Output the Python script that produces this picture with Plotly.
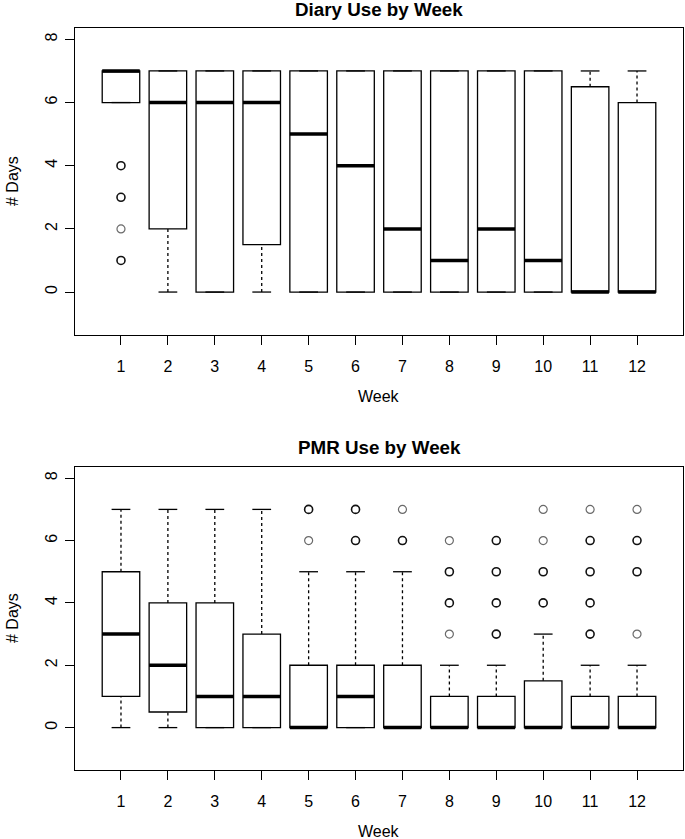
import plotly.graph_objects as go
from plotly.subplots import make_subplots
from collections import Counter

weeks = list(range(1, 13))

# Diary use by week
diary_q1 = [6, 2, 0, 1.5, 0, 0, 0, 0, 0, 0, 0, 0]
diary_med = [7, 6, 6, 6, 5, 4, 2, 1, 2, 1, 0, 0]
diary_q3 = [7, 7, 7, 7, 7, 7, 7, 7, 7, 7, 6.5, 6]
diary_lo = [6, 0, 0, 0, 0, 0, 0, 0, 0, 0, 0, 0]
diary_hi = [7, 7, 7, 7, 7, 7, 7, 7, 7, 7, 7, 7]
diary_out = {1: [1, 1, 2, 3, 3, 4, 4]}

# PMR use by week
pmr_q1 = [1, 0.5, 0, 0, 0, 0, 0, 0, 0, 0, 0, 0]
pmr_med = [3, 2, 1, 1, 0, 1, 0, 0, 0, 0, 0, 0]
pmr_q3 = [5, 4, 4, 3, 2, 2, 2, 1, 1, 1.5, 1, 1]
pmr_lo = [0, 0, 0, 0, 0, 0, 0, 0, 0, 0, 0, 0]
pmr_hi = [7, 7, 7, 7, 5, 5, 5, 2, 2, 3, 2, 2]
pmr_out = {5: [6, 7, 7], 6: [6, 6, 7, 7], 7: [6, 6, 7],
           8: [3, 4, 4, 5, 5, 6], 9: [3, 3, 4, 4, 5, 5, 6, 6],
           10: [4, 4, 5, 5, 6, 7], 11: [3, 3, 4, 4, 5, 5, 6, 6, 7],
           12: [3, 5, 5, 6, 6, 7]}

titles = ["Diary Use by Week", "PMR Use by Week"]
x_label = "Week"
y_label = "# Days"

BOXW = 0.8
STAPLE = 0.2
FONT = "Liberation Sans, Arial, Helvetica, sans-serif"

W, H = 685, 839
ML, MR, MT, MB = 75, 2, 28, 69
PH = H - MT - MB
top_dom = [(770 - 335) / PH, 1.0]
bot_dom = [0.0, (770 - 467) / PH]

fig = make_subplots(rows=2, cols=1)

panels = [
    (diary_q1, diary_med, diary_q3, diary_lo, diary_hi, diary_out),
    (pmr_q1, pmr_med, pmr_q3, pmr_lo, pmr_hi, pmr_out),
]

for r, (q1, med, q3, lo, hi, outs) in enumerate(panels, start=1):
    fig.add_trace(go.Box(
        x=weeks, q1=q1, median=med, q3=q3, lowerfence=q1, upperfence=q3,
        width=BOXW, whiskerwidth=0, fillcolor="white",
        line=dict(color="black", width=1.3), boxpoints=False,
        hoverinfo="skip", showlegend=False), row=r, col=1)
    # whiskers (dashed)
    wx, wy = [], []
    for w, a, b, c, d in zip(weeks, q1, q3, lo, hi):
        if c < a:
            wx += [w, w, None]; wy += [c, a, None]
        if d > b:
            wx += [w, w, None]; wy += [b, d, None]
    fig.add_trace(go.Scatter(x=wx, y=wy, mode="lines",
                             line=dict(color="black", width=1.3, dash="3px,3px"),
                             hoverinfo="skip", showlegend=False), row=r, col=1)
    # staples
    sx, sy = [], []
    for w, c, d in zip(weeks, lo, hi):
        sx += [w - STAPLE, w + STAPLE, None, w - STAPLE, w + STAPLE, None]
        sy += [c, c, None, d, d, None]
    fig.add_trace(go.Scatter(x=sx, y=sy, mode="lines",
                             line=dict(color="black", width=1.3),
                             hoverinfo="skip", showlegend=False), row=r, col=1)
    # medians (thick)
    mx, my = [], []
    for w, m in zip(weeks, med):
        mx += [w - BOXW / 2, w + BOXW / 2, None]; my += [m, m, None]
    fig.add_trace(go.Scatter(x=mx, y=my, mode="lines",
                             line=dict(color="black", width=3.5),
                             hoverinfo="skip", showlegend=False), row=r, col=1)
    # outliers: single points lighter, overlapping points darker
    sx1, sy1, sx2, sy2 = [], [], [], []
    for w, vals in outs.items():
        for v, n in Counter(vals).items():
            if n > 1:
                sx2.append(w); sy2.append(v)
            else:
                sx1.append(w); sy1.append(v)
    fig.add_trace(go.Scatter(x=sx1, y=sy1, mode="markers",
                             marker=dict(symbol="circle-open", size=8, color="#6a6a6a",
                                         line=dict(width=1.2, color="#6a6a6a")),
                             hoverinfo="skip", showlegend=False), row=r, col=1)
    fig.add_trace(go.Scatter(x=sx2, y=sy2, mode="markers",
                             marker=dict(symbol="circle-open", size=8, color="#111111",
                                         line=dict(width=1.6, color="#111111")),
                             hoverinfo="skip", showlegend=False), row=r, col=1)

axis_common = dict(showline=True, mirror=True, linecolor="black", linewidth=1.3,
                   ticks="outside", ticklen=9, tickwidth=1.3, tickcolor="black",
                   showgrid=False, zeroline=False,
                   tickfont=dict(family=FONT, size=16, color="black"))

for r, dom in [(1, top_dom), (2, bot_dom)]:
    fig.update_xaxes(range=[0.02, 12.98], tickvals=weeks, ticklabelstandoff=8,
                     row=r, col=1, **axis_common)
    fig.update_yaxes(range=[-1.36, 8.36], tickvals=[0, 2, 4, 6, 8], tickangle=-90,
                     domain=dom, ticklabelstandoff=1, row=r, col=1, **axis_common)

def py(pix):
    return (H - MB - pix) / PH

def px(pix):
    return (pix - ML) / (W - ML - MR)

anns = []
for title, ty, wy, cy in [(titles[0], 9, 397, 181), (titles[1], 447, 831, 618)]:
    anns.append(dict(text="<b>%s</b>" % title, x=px(379), y=py(ty), xref="paper", yref="paper",
                     xanchor="center", yanchor="middle", showarrow=False,
                     font=dict(family=FONT, size=18.8, color="black")))
    anns.append(dict(text=x_label, x=px(379), y=py(wy), xref="paper", yref="paper",
                     xanchor="center", yanchor="middle", showarrow=False,
                     font=dict(family=FONT, size=16, color="black")))
    anns.append(dict(text=y_label, x=px(12), y=py(cy), xref="paper", yref="paper",
                     xanchor="center", yanchor="middle", showarrow=False, textangle=-90,
                     font=dict(family=FONT, size=16, color="black")))

fig.update_layout(width=W, height=H, margin=dict(l=ML, r=MR, t=MT, b=MB),
                  plot_bgcolor="white", paper_bgcolor="white", annotations=anns,
                  font=dict(family=FONT, color="black"))

fig.write_html("out.html", config={"displayModeBar": False},
               post_script="document.body.style.margin='0';"
                           "document.body.style.overflow='hidden';")
